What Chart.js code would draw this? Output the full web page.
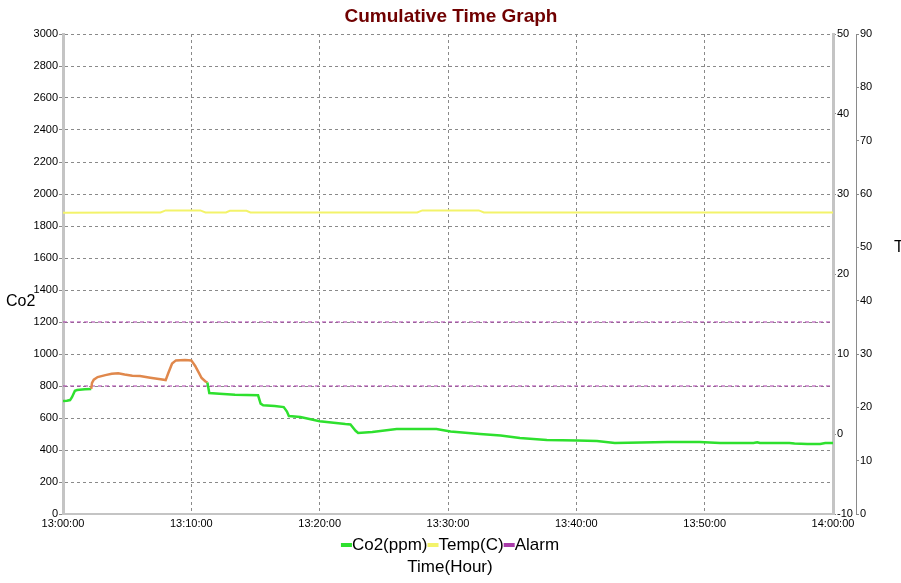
<!DOCTYPE html>
<html>
<head>
<meta charset="utf-8">
<script src="https://cdn.jsdelivr.net/npm/chart.js@4.4.1/dist/chart.umd.min.js"></script>
<style>
  body { margin: 0; background: #fff; }
  canvas { display: block; }
</style>
</head>
<body>
<canvas id="chart" width="901" height="583"></canvas>
<script>
// minutes after 13:00
const co2Minutes = [0, 0.3, 0.55, 0.7, 0.93, 1.1, 1.7, 2.2, 2.26, 2.4, 2.7, 3.3, 3.8, 4.3, 4.8, 5.4, 6.0, 6.8, 7.6, 8.0,
  8.2, 8.5, 8.8, 9.5, 10.0, 10.3, 10.6, 10.8, 11.1, 11.25, 11.4, 12.2, 13.4, 15.2, 15.4, 15.6, 16.5, 17.2, 17.45, 17.6,
  18.5, 20.0, 22.0, 22.4, 22.8, 23.0, 24.1, 26.0, 29.1, 30.2, 32.5, 34.1, 35.6, 37.7, 40.1, 41.6, 43.0, 47.1, 49.6,
  51.2, 53.8, 54.1, 54.3, 56.6, 57.0, 58.0, 59.0, 59.4, 60.0];
const co2Values = [706, 708, 712, 730, 770, 775, 780, 782, 820, 840, 856, 868, 876, 880, 872, 864, 862, 852, 842, 837,
  880, 940, 960, 962, 960, 925, 880, 850, 828, 822, 756, 752, 746, 742, 690, 680, 675, 668, 640, 612,
  606, 580, 562, 560, 520, 506, 512, 531, 531, 515, 500, 490, 475, 462, 460, 456, 444, 450, 450,
  444, 444, 448, 444, 444, 440, 437, 437, 444, 444];

const tempMinutes = [0, 5, 7.6, 8.0, 10.7, 11.1, 12.7, 13.0, 14.3, 14.6, 27.6, 28.0, 32.4, 32.8, 60];
const tempValues = [27.65, 27.7, 27.7, 27.95, 27.95, 27.7, 27.7, 27.9, 27.9, 27.7, 27.7, 27.95, 27.95, 27.7, 27.7];

const alarmLevels = [1200, 800];
const timeRange = [0, 60];

const co2Color = "#2ee02e";
const overColor = "#e0884c";
const tempColor = "#f3f36a";
const alarmColor = "#a83aa8";
const gridColor = "#8a8a8a";
const axisFont = { family: "'Liberation Sans', Arial, sans-serif", size: 11 };
const textFont = "'Liberation Sans', Arial, sans-serif";

const co2Data = co2Minutes.map((m, i) => ({ x: m, y: co2Values[i] }));
const tempData = tempMinutes.map((m, i) => ({ x: m, y: tempValues[i] }));
const alarmData = [];
alarmLevels.forEach((level, i) => {
  if (i > 0) alarmData.push({ x: timeRange[1], y: null });
  alarmData.push({ x: timeRange[0], y: level }, { x: timeRange[1], y: level });
});

const legendItems = [
  { label: "Co2(ppm)", color: co2Color },
  { label: "Temp(C)", color: tempColor },
  { label: "Alarm", color: alarmColor },
];

const textPlugin = {
  id: "texts",
  afterDraw(chart) {
    const ctx = chart.ctx;
    ctx.save();
    ctx.textBaseline = "middle";

    ctx.font = "bold 19px " + textFont;
    ctx.fillStyle = "#700000";
    ctx.textAlign = "center";
    ctx.fillText("Cumulative Time Graph", 451, 17);

    ctx.font = "16px " + textFont;
    ctx.fillStyle = "#000";
    ctx.textAlign = "left";
    ctx.fillText("Co2", 6, 302);
    ctx.fillText("Temp", 894, 248);

    // legend
    ctx.font = "17px " + textFont;
    const markW = 11;
    let total = 0;
    legendItems.forEach(it => { total += markW + ctx.measureText(it.label).width; });
    let x = 450 - total / 2;
    const y = 545;
    legendItems.forEach(it => {
      ctx.fillStyle = it.color;
      ctx.fillRect(x, y - 2, markW, 4);
      x += markW;
      ctx.fillStyle = "#000";
      ctx.fillText(it.label, x, y);
      x += ctx.measureText(it.label).width;
    });

    ctx.textAlign = "center";
    ctx.fillText("Time(Hour)", 450, 567);
    ctx.restore();
  },
};

const plainTick = v => String(v);

new Chart(document.getElementById("chart"), {
  type: "line",
  data: {
    datasets: [
      {
        label: "Co2(ppm)",
        data: co2Data,
        yAxisID: "y",
        borderColor: co2Color,
        borderWidth: 2.5,
        pointRadius: 0,
        segment: {
          borderColor: c => (c.p1.parsed.y > alarmLevels[1] ? overColor : co2Color),
        },
      },
      {
        label: "Temp(C)",
        data: tempData,
        yAxisID: "y1",
        borderColor: tempColor,
        borderWidth: 2,
        pointRadius: 0,
      },
      {
        label: "Alarm",
        data: alarmData,
        yAxisID: "y",
        borderColor: alarmColor,
        borderWidth: 1,
        borderDash: [4, 3],
        pointRadius: 0,
        spanGaps: false,
      },
    ],
  },
  options: {
    responsive: false,
    animation: false,
    devicePixelRatio: 1,
    layout: { padding: { top: 34, left: 0, right: 0, bottom: 0 } },
    plugins: {
      legend: { display: false },
      tooltip: { enabled: false },
    },
    scales: {
      x: {
        type: "linear",
        min: timeRange[0],
        max: timeRange[1],
        afterFit: s => { s.height = 69; },
        ticks: {
          stepSize: 10,
          color: "#000",
          font: axisFont,
          padding: 3,
          maxRotation: 0,
          callback: v => {
            const h = 13 + Math.floor(v / 60);
            const m = v % 60;
            return h + ":" + String(m).padStart(2, "0") + ":00";
          },
        },
        grid: { color: gridColor, drawTicks: false },
        border: { color: "#c4c4c4", width: 2, dash: [3, 3] },
      },
      y: {
        position: "left",
        min: 0,
        max: 3000,
        afterFit: s => { s.width = 63; },
        ticks: { stepSize: 200, color: "#000", font: axisFont, padding: 1, callback: plainTick },
        grid: { color: gridColor, tickLength: 4, tickColor: gridColor },
        border: { color: "#c4c4c4", width: 3, dash: [3, 3] },
      },
      y1: {
        position: "right",
        min: -10,
        max: 50,
        afterFit: s => { s.width = 23; },
        ticks: { stepSize: 10, color: "#000", font: axisFont, padding: 1, callback: plainTick },
        grid: { drawOnChartArea: false, tickLength: 3, tickColor: gridColor },
        border: { color: "#c4c4c4", width: 3 },
      },
      y2: {
        position: "right",
        min: 0,
        max: 90,
        afterFit: s => { s.width = 45; },
        ticks: { stepSize: 10, color: "#000", font: axisFont, padding: 1, callback: plainTick },
        grid: { drawOnChartArea: false, tickLength: 3, tickColor: gridColor },
        border: { color: gridColor, width: 1 },
      },
    },
  },
  plugins: [textPlugin],
});
</script>
</body>
</html>
